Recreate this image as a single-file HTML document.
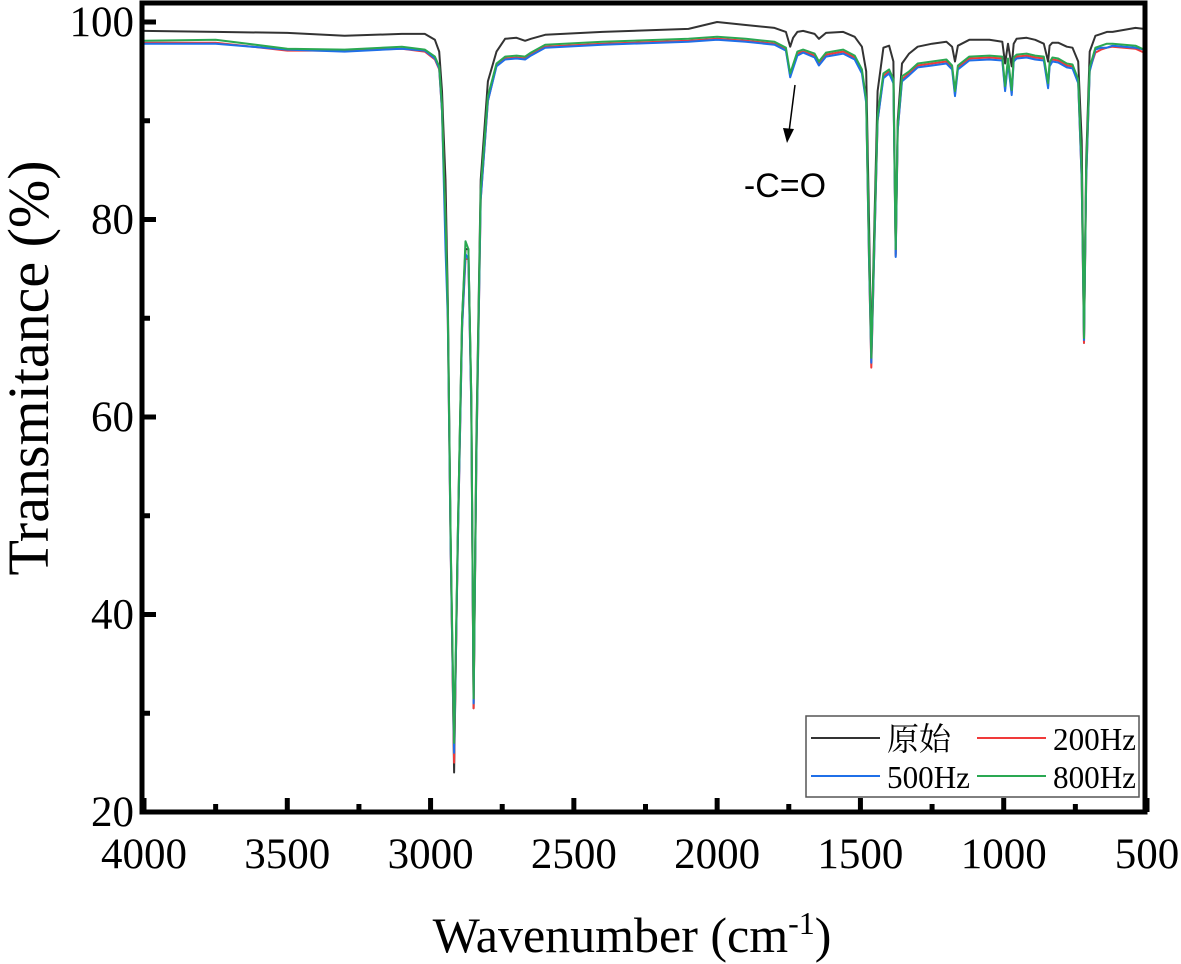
<!DOCTYPE html>
<html><head><meta charset="utf-8"><style>
html,body{margin:0;padding:0;background:#fff;}
svg{display:block;font-family:"Liberation Serif","Noto Serif CJK SC",serif;}
</style></head><body>
<svg id="chart" width="1181" height="964" viewBox="0 0 1181 964" xmlns="http://www.w3.org/2000/svg">
<g id="series"></g>
<g id="axes"></g>
<text x="0" y="0" transform="translate(48,368) rotate(-90)" text-anchor="middle" font-size="58">Transmitance (%)</text>
<text x="632" y="952" text-anchor="middle" font-size="50">Wavenumber (cm<tspan dy="-18" font-size="32">-1</tspan><tspan dy="18">)</tspan></text>
<text x="785" y="197" text-anchor="middle" font-size="34" font-family="Liberation Sans, sans-serif">-C=O</text>
<g>
<line x1="795" y1="85" x2="789" y2="132" stroke="#000" stroke-width="1.5"/>
<polygon points="787,143 783,128 794,129" fill="#000"/>
</g>
<g>
<rect x="806" y="716" width="333" height="81" fill="#fff" stroke="#555" stroke-width="1.5"/>
<line x1="811" y1="738" x2="880" y2="738" stroke="#333" stroke-width="2"/>
<text x="887" y="750" font-size="32">原始</text>
<line x1="977" y1="738" x2="1046" y2="738" stroke="#f03a3a" stroke-width="2"/>
<text x="1053" y="750" font-size="32" textLength="83" lengthAdjust="spacingAndGlyphs">200Hz</text>
<line x1="811" y1="776" x2="880" y2="776" stroke="#1f6fe8" stroke-width="2"/>
<text x="887" y="788" font-size="32" textLength="83" lengthAdjust="spacingAndGlyphs">500Hz</text>
<line x1="977" y1="776" x2="1046" y2="776" stroke="#2aa852" stroke-width="2"/>
<text x="1053" y="788" font-size="32" textLength="83" lengthAdjust="spacingAndGlyphs">800Hz</text>
</g>
</svg>
<script>
const wavenumbers=[4000,3750,3500,3300,3100,3020,2985,2970,2960,2955,2948,2940,2930,2918,2905,2890,2878,2868,2858,2850,2840,2825,2800,2770,2740,2700,2670,2650,2600,2400,2200,2100,2000,1900,1800,1760,1745,1735,1720,1700,1660,1645,1620,1560,1520,1495,1480,1470,1462,1455,1440,1420,1400,1385,1377,1370,1355,1330,1300,1250,1200,1180,1170,1160,1120,1050,1005,995,985,972,965,955,920,890,860,845,840,830,810,780,760,740,728,720,712,700,680,660,640,620,580,540,510];
const originalVals=[99.1,99.0,98.9,98.6,98.8,98.8,98.2,97,93,89,84,72,48,24,48,70,77,77,62,30.5,58,84,94,97,98.3,98.4,98.1,98.3,98.7,99,99.2,99.3,100,99.7,99.4,99.0,97.5,98.4,99,99.1,98.8,98.3,98.9,99,98.5,97.5,95,80,66,75,93,97.4,97.6,96,76.5,90,95.8,96.8,97.5,97.8,98.0,97.5,96,97.6,98.2,98.2,98.0,95.8,97.8,95.5,97.8,98.3,98.4,98.2,97.8,96,97.6,97.9,97.9,97.5,97.4,96,88,67.5,86,97,98.6,98.8,99,99,99.2,99.4,99.3];
const hz200Vals=[97.9,97.9,97.1,97.1,97.3,97.0,96.2,95.2,91,86,80,70,47,25,47,69,76,76,61,30.5,56,82,92,95.6,96.3,96.4,96.3,96.7,97.5,97.8,98,98.1,98.3,98.1,97.8,97.2,94.6,95.5,96.8,97.0,96.6,95.8,96.7,97,96.4,95,92,76,65,73,90,94.5,95,94,76.3,89,94.2,94.8,95.6,95.8,96.0,95.4,92.7,95.4,96.3,96.4,96.3,93.2,96.1,92.8,96.2,96.5,96.6,96.4,96.3,93.5,95.7,96.2,96.1,95.6,95.5,94,84,67.5,84,95.2,96.9,97.2,97.4,97.5,97.4,97.3,96.9];
const hz500Vals=[97.8,97.8,97.2,97.0,97.3,97.1,96.3,95.3,91,85,77,70,47,26,47,69,76.5,76,61,31,56,82,92,95.5,96.2,96.3,96.2,96.6,97.4,97.7,97.9,98.0,98.2,98.0,97.7,97.1,94.4,95.3,96.6,96.9,96.4,95.6,96.5,96.8,96.2,94.8,91.8,76,65.5,73,90,94.3,94.8,93.8,76.2,89,94,94.6,95.4,95.6,95.8,95.2,92.5,95.2,96.1,96.2,96.1,93,95.9,92.6,96,96.3,96.4,96.2,96.1,93.3,95.5,96,95.9,95.4,95.3,93.8,84,67.8,84,95,97.2,97.4,97.4,97.6,97.5,97.4,97.2];
const hz800Vals=[98.1,98.2,97.3,97.2,97.5,97.2,96.5,95.5,91.5,86,80,71,48,27,48,70,77.8,77,62,31.5,57,83,92.5,95.8,96.5,96.6,96.5,96.9,97.7,98,98.2,98.3,98.5,98.3,98,97.4,94.8,95.7,97,97.2,96.8,96,96.9,97.2,96.6,95.2,92.2,77,66,74,90.5,94.8,95.2,94.2,77,89.5,94.5,95,95.8,96.0,96.2,95.6,93,95.6,96.5,96.6,96.5,93.5,96.3,93.1,96.4,96.7,96.8,96.6,96.5,93.8,95.9,96.4,96.3,95.8,95.7,94.2,85,68,85,95.4,97.4,97.6,97.8,97.8,97.7,97.6,97.2];
const xTicks=[4000,3500,3000,2500,2000,1500,1000,500];
const yTicks=[20,40,60,80,100];

const X0=144,X1=1147,Y0=22,Y1=812;
function xs(w){return X0+(4000-w)/3500*(X1-X0);}
function ys(v){return Y1-(v-20)/80*(Y1-Y0);}
const NS='http://www.w3.org/2000/svg';
const seriesG=document.getElementById('series');
const axesG=document.getElementById('axes');
function mk(tag,attrs,parent){const e=document.createElementNS(NS,tag);for(const k in attrs)e.setAttribute(k,attrs[k]);parent.appendChild(e);return e;}
const series=[[originalVals,'#333','series-original'],[hz200Vals,'#f03a3a','series-200hz'],[hz500Vals,'#1f6fe8','series-500hz'],[hz800Vals,'#2aa852','series-800hz']];
series.forEach(s=>{
  let d='';
  wavenumbers.forEach((w,i)=>{d+=(i?'L':'M')+xs(w).toFixed(1)+','+ys(s[0][i]).toFixed(1);});
  const p=mk('path',{d:d,fill:'none',stroke:s[1],'stroke-width':2,'stroke-linejoin':'round'},seriesG);
  
  
});
const frame=mk('rect',{x:142,y:3,width:1003,height:809,fill:'none',stroke:'#000','stroke-width':5},axesG);


xTicks.forEach((t,i)=>{
  const x=xs(t);
  const tk=mk('line',{x1:x,y1:812,x2:x,y2:798,stroke:'#000','stroke-width':5},axesG);
  
  
  const lb=mk('text',{x:x,y:868,'text-anchor':'middle','font-size':43},axesG);
  lb.textContent=t;
  
  
  if(i<xTicks.length-1){
    const xm=xs(t-250);
    const mt=mk('line',{x1:xm,y1:812,x2:xm,y2:804,stroke:'#000','stroke-width':5},axesG);
    
    
  }
});
yTicks.forEach((t,i)=>{
  const y=ys(t);
  const tk=mk('line',{x1:142,y1:y,x2:156,y2:y,stroke:'#000','stroke-width':5},axesG);
  
  
  const lb=mk('text',{x:134,y:y+14,'text-anchor':'end','font-size':43},axesG);
  lb.textContent=t;
  
  
  if(i<yTicks.length-1){
    const ym=ys(t+10);
    const mt=mk('line',{x1:142,y1:ym,x2:150,y2:ym,stroke:'#000','stroke-width':5},axesG);
    
    
  }
});
</script>
</body></html>
